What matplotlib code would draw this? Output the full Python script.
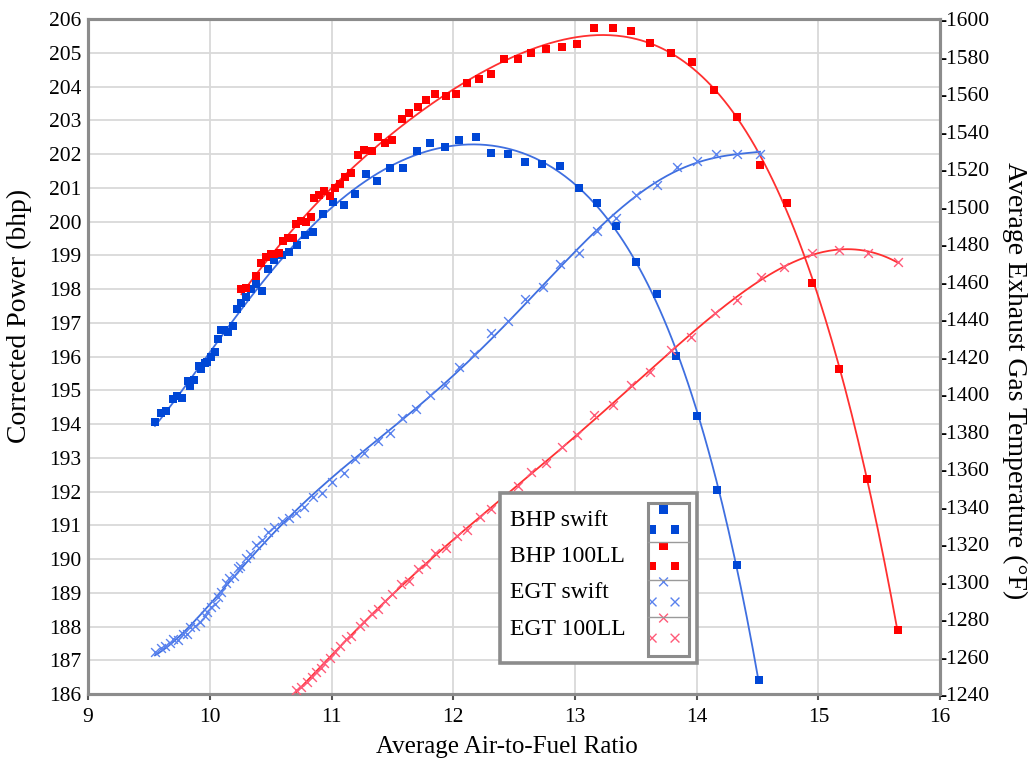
import numpy as np
import matplotlib
matplotlib.use("Agg")
import matplotlib.pyplot as plt
from matplotlib.patches import Rectangle
from matplotlib.lines import Line2D

plt.rcParams['font.family'] = ['Liberation Serif', 'DejaVu Serif']

# BHP swift (left axis)
bhp_swift_afr = [9.55, 9.60, 9.64, 9.70, 9.73, 9.77, 9.82, 9.84, 9.87, 9.91, 9.93, 9.96,
                 9.98, 10.01, 10.04, 10.07, 10.09, 10.12, 10.15, 10.19, 10.22, 10.26, 10.30,
                 10.34, 10.38, 10.43, 10.48, 10.53, 10.59, 10.65, 10.72, 10.78, 10.85, 10.93,
                 11.01, 11.10, 11.19, 11.28, 11.37, 11.48, 11.59, 11.70, 11.81, 11.93, 12.05,
                 12.19, 12.31, 12.45, 12.59, 12.73, 12.88, 13.03, 13.18, 13.34, 13.50, 13.67,
                 13.83, 14.00, 14.17, 14.33, 14.51]
bhp_swift = [194.07, 194.32, 194.40, 194.73, 194.83, 194.76, 195.28, 195.13, 195.30, 195.72,
             195.62, 195.82, 195.85, 195.98, 196.12, 196.51, 196.80, 196.80, 196.74, 196.90,
             197.41, 197.60, 197.77, 197.99, 198.14, 197.94, 198.59, 198.86, 199.02, 199.10,
             199.31, 199.60, 199.70, 200.21, 200.59, 200.49, 200.81, 201.40, 201.21, 201.60,
             201.60, 202.10, 202.32, 202.22, 202.43, 202.49, 202.02, 202.00, 201.77, 201.70,
             201.64, 200.98, 200.54, 199.88, 198.81, 197.84, 196.01, 194.24, 192.04, 189.82,
             186.41]

# BHP 100LL (left axis)
bhp_100ll_afr = [10.26, 10.30, 10.38, 10.42, 10.46, 10.50, 10.53, 10.57, 10.60, 10.64, 10.68,
                 10.71, 10.75, 10.79, 10.83, 10.86, 10.90, 10.94, 10.99, 11.03, 11.07, 11.11,
                 11.16, 11.22, 11.27, 11.33, 11.38, 11.44, 11.50, 11.58, 11.64, 11.71, 11.78,
                 11.85, 11.94, 12.02, 12.11, 12.21, 12.31, 12.42, 12.53, 12.64, 12.76, 12.89,
                 13.02, 13.16, 13.31, 13.46, 13.62, 13.79, 13.96, 14.14, 14.33, 14.52, 14.74,
                 14.95, 15.17, 15.40, 15.65]
bhp_100ll = [197.99, 198.02, 198.40, 198.76, 198.96, 199.03, 199.03, 199.08, 199.41, 199.52,
             199.52, 199.92, 200.02, 199.99, 200.12, 200.71, 200.80, 200.90, 200.75, 200.98,
             201.10, 201.31, 201.43, 201.96, 202.13, 202.10, 202.49, 202.32, 202.41, 203.04,
             203.21, 203.39, 203.60, 203.78, 203.72, 203.78, 204.11, 204.22, 204.36, 204.81,
             204.82, 205.00, 205.11, 205.18, 205.25, 205.72, 205.72, 205.64, 205.29, 205.00,
             204.72, 203.90, 203.11, 201.68, 200.55, 198.17, 195.62, 192.37, 187.90]

# EGT swift (right axis, deg F)
egt_swift_afr = [9.55, 9.60, 9.63, 9.67, 9.70, 9.74, 9.78, 9.81, 9.84, 9.88, 9.92, 9.96, 9.98,
                 10.01, 10.04, 10.07, 10.09, 10.13, 10.16, 10.20, 10.23, 10.25, 10.30, 10.33,
                 10.38, 10.43, 10.48, 10.53, 10.59, 10.65, 10.71, 10.77, 10.85, 10.92, 11.00,
                 11.10, 11.19, 11.27, 11.38, 11.48, 11.58, 11.69, 11.81, 11.93, 12.05, 12.17,
                 12.31, 12.45, 12.59, 12.74, 12.88, 13.03, 13.18, 13.34, 13.50, 13.67, 13.84,
                 14.00, 14.16, 14.33, 14.52]
egt_swift = [1262.4, 1264.4, 1265.6, 1267.0, 1269.2, 1268.8, 1272.0, 1272.0, 1276.0, 1276.3,
             1278.6, 1281.6, 1284.0, 1286.6, 1288.0, 1291.9, 1294.6, 1299.0, 1301.7, 1302.9,
             1307.0, 1308.3, 1312.4, 1314.7, 1319.5, 1322.1, 1326.6, 1328.9, 1332.4, 1334.0,
             1336.4, 1339.6, 1345.2, 1347.0, 1353.2, 1358.0, 1365.3, 1368.7, 1375.1, 1379.0,
             1387.2, 1392.2, 1399.5, 1404.6, 1414.6, 1421.3, 1432.4, 1439.1, 1450.5, 1456.9,
             1469.3, 1475.0, 1486.8, 1493.7, 1506.0, 1511.3, 1520.9, 1524.3, 1528.0, 1528.0,
             1528.0]

# EGT 100LL (right axis, deg F)
egt_100ll_afr = [10.71, 10.75, 10.80, 10.84, 10.87, 10.91, 10.94, 10.99, 11.03, 11.07, 11.12,
                 11.16, 11.23, 11.27, 11.33, 11.38, 11.44, 11.50, 11.57, 11.64, 11.71, 11.78,
                 11.85, 11.94, 12.03, 12.11, 12.22, 12.31, 12.42, 12.53, 12.64, 12.76, 12.89,
                 13.02, 13.16, 13.31, 13.46, 13.62, 13.79, 13.95, 14.15, 14.33, 14.53, 14.72,
                 14.95, 15.17, 15.41, 15.65]
egt_100ll = [1242.1, 1243.6, 1246.6, 1249.2, 1251.9, 1253.7, 1256.7, 1259.0, 1262.6, 1265.6,
             1269.2, 1271.0, 1276.3, 1278.6, 1282.7, 1285.2, 1289.6, 1293.3, 1298.5, 1300.4,
             1306.5, 1309.3, 1315.0, 1318.0, 1324.4, 1327.5, 1334.2, 1338.5, 1345.2, 1350.9,
             1358.4, 1363.0, 1371.9, 1378.1, 1388.7, 1394.1, 1404.8, 1411.9, 1423.5, 1430.2,
             1443.4, 1450.1, 1462.6, 1467.9, 1475.4, 1476.8, 1475.0, 1470.6]

labels = ['BHP swift', 'BHP 100LL', 'EGT swift', 'EGT 100LL']

blue_sq = '#0047d6'
blue_ln = '#3f6fe0'
blue_x = '#5a82ee'
red_sq = '#ff0000'
red_ln = '#ff3030'
red_x = '#ff5a78'
frame_col = '#8c8c8c'


def fit_curve(x, y, deg):
    x = np.asarray(x)
    p = np.polyfit(x, y, deg)
    xs = np.linspace(x.min(), x.max(), 300)
    return xs, np.polyval(p, xs)


fig = plt.figure(figsize=(10.33, 7.61), dpi=100)
ax = fig.add_axes([0.0852, 0.088, 0.825, 0.887])
ax2 = ax.twinx()

ax.set_xlim(9, 16)
ax.set_ylim(186, 206)
ax2.set_ylim(1240, 1600)
ax.set_xticks(range(9, 17))
ax.set_yticks(range(186, 207))
ax2.set_yticks(range(1240, 1601, 20))
ax2.set_yticklabels(['-%d' % v for v in range(1240, 1601, 20)])

ax.grid(True, color='#d9d9d9', lw=1.3)
ax.set_axisbelow(True)

for a in (ax, ax2):
    for s in a.spines.values():
        s.set_color(frame_col)
        s.set_linewidth(2.2)

ax.tick_params(axis='x', length=4, width=1.5, color='#555555', labelsize=15.5, pad=6)
ax.tick_params(axis='y', length=0, labelsize=15.5, pad=5)
ax2.tick_params(axis='y', length=0, labelsize=15.5, pad=-1)

# fitted curves
xs, ys = fit_curve(bhp_swift_afr, bhp_swift, 5)
ax.plot(xs, ys, color=blue_ln, lw=1.3, zorder=3)
xs, ys = fit_curve(bhp_100ll_afr, bhp_100ll, 5)
ax.plot(xs, ys, color=red_ln, lw=1.3, zorder=3)
xs, ys = fit_curve(egt_swift_afr, egt_swift, 6)
ax2.plot(xs, ys, color=blue_ln, lw=1.3, zorder=3)
xs, ys = fit_curve(egt_100ll_afr, egt_100ll, 6)
ax2.plot(xs, ys, color=red_ln, lw=1.3, zorder=3)

# points
ax.scatter(bhp_swift_afr, bhp_swift, marker='s', s=36, color=blue_sq, lw=0, zorder=4)
ax.scatter(bhp_100ll_afr, bhp_100ll, marker='s', s=36, color=red_sq, lw=0, zorder=4)
ax2.scatter(egt_swift_afr, egt_swift, marker='x', s=40, color=blue_x, lw=1.0, zorder=4)
ax2.scatter(egt_100ll_afr, egt_100ll, marker='x', s=40, color=red_x, lw=1.0, zorder=4)

ax.set_xlabel('Average Air-to-Fuel Ratio', fontsize=18)
ax.set_ylabel('Corrected Power (bhp)', fontsize=20)
ax2.set_ylabel('Average Exhaust Gas Temperature (°F)', fontsize=20, rotation=270,
               va='bottom')
ax.xaxis.set_label_coords(0.492, -0.062)
ax.yaxis.set_label_coords(-0.066, 0.56)
ax2.yaxis.set_label_coords(1.072, 0.465)

# legend: outer frame and sample column drawn as boxes, entries from ax2.legend
ax2.add_patch(Rectangle((0.4836, 0.0459), 0.2312, 0.2519, transform=ax2.transAxes,
                        facecolor='white', edgecolor=frame_col, lw=2.6, zorder=9,
                        clip_on=False))
ax2.add_patch(Rectangle((0.6573, 0.0563), 0.0481, 0.2267, transform=ax2.transAxes,
                        fill=False, edgecolor=frame_col, lw=2.2, zorder=11, clip_on=False))
for yy in (0.2247, 0.1689, 0.1136):
    ax2.add_line(Line2D([0.6573, 0.7054], [yy, yy], transform=ax2.transAxes,
                        color='#9a9a9a', lw=1.0, zorder=11))

handles = [
    ax.scatter([], [], marker='s', s=36, color=blue_sq, lw=0),
    ax.scatter([], [], marker='s', s=36, color=red_sq, lw=0),
    ax.scatter([], [], marker='x', s=40, color=blue_x, lw=1.0),
    ax.scatter([], [], marker='x', s=40, color=red_x, lw=1.0),
]
leg = ax2.legend(handles, labels, loc='upper left', bbox_to_anchor=(0.4953, 0.2765),
                 borderaxespad=0, markerfirst=False, scatterpoints=3,
                 scatteryoffsets=[-0.17, 0.78, -0.17], fontsize=17, frameon=False,
                 labelspacing=0.53, handlelength=1.57, handleheight=1.0,
                 handletextpad=1.0, borderpad=0.0)
leg.set_zorder(10)

# text left, handles right in each row
for row in leg._legend_handle_box.get_children()[0].get_children():
    row.mode = 'expand'
    row.width = 172

fig.savefig('out.png', dpi=100)
